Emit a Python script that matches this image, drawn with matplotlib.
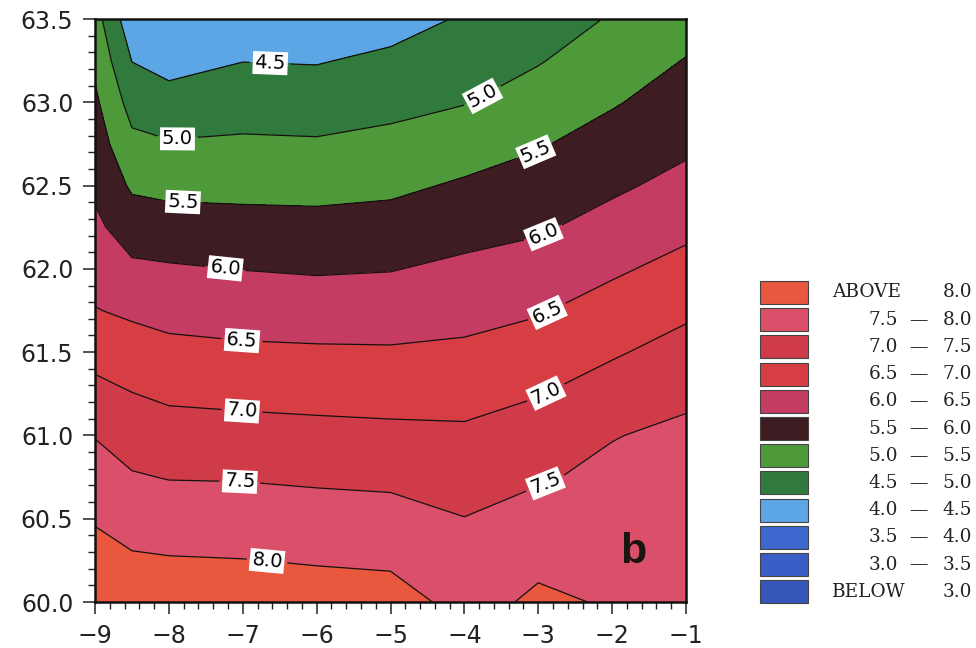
import numpy as np
import matplotlib
matplotlib.use("Agg")
import matplotlib.pyplot as plt
from matplotlib.patches import Rectangle

# ---- data ----
x_cols = [-9.0, -8.5, -8.0, -7.0, -6.0, -5.0, -4.0, -3.0, -2.0, -1.0]
y_rows = [60.0, 60.25, 60.5, 60.75, 61.0, 61.25, 61.5, 61.75,
          62.0, 62.25, 62.5, 62.75, 63.0, 63.25, 63.5]

# field values, one row per latitude (y_rows order), one column per x_cols entry
row_600 = [8.40, 8.30, 8.25, 8.25, 8.20, 8.17, 7.87, 8.06, 7.97, 7.90]
row_6025 = [8.18, 8.06, 8.03, 8.01, 7.97, 7.94, 7.69, 7.93, 7.85, 7.82]
row_605 = [7.96, 7.80, 7.76, 7.74, 7.70, 7.67, 7.51, 7.68, 7.73, 7.75]
row_6075 = [7.72, 7.54, 7.48, 7.47, 7.43, 7.40, 7.29, 7.45, 7.61, 7.68]
row_610 = [7.48, 7.28, 7.20, 7.17, 7.14, 7.11, 7.08, 7.22, 7.48, 7.60]
row_6125 = [7.15, 7.01, 6.92, 6.88, 6.85, 6.83, 6.84, 6.98, 7.21, 7.41]
row_615 = [6.83, 6.72, 6.63, 6.58, 6.56, 6.55, 6.59, 6.72, 6.95, 7.17]
row_6175 = [6.52, 6.42, 6.34, 6.29, 6.26, 6.26, 6.34, 6.46, 6.69, 6.92]
row_620 = [6.31, 6.09, 6.05, 5.99, 5.95, 5.98, 6.10, 6.20, 6.43, 6.65]
row_6225 = [6.10, 5.76, 5.71, 5.67, 5.65, 5.69, 5.83, 5.94, 6.17, 6.39]
row_625 = [5.91, 5.43, 5.37, 5.36, 5.35, 5.40, 5.56, 5.70, 5.92, 6.14]
row_6275 = [5.75, 5.12, 5.04, 5.07, 5.05, 5.13, 5.27, 5.46, 5.69, 5.91]
row_630 = [5.59, 4.81, 4.66, 4.78, 4.76, 4.86, 4.98, 5.21, 5.46, 5.71]
row_6325 = [5.40, 4.49, 4.35, 4.49, 4.47, 4.60, 4.77, 4.97, 5.25, 5.52]
row_635 = [5.20, 4.17, 4.10, 4.20, 4.15, 4.30, 4.55, 4.75, 5.04, 5.30]

levels = [3.0, 3.5, 4.0, 4.5, 5.0, 5.5, 6.0, 6.5, 7.0, 7.5, 8.0]
line_levels = [4.5, 5.0, 5.5, 6.0, 6.5, 7.0, 7.5, 8.0]
# colours from BELOW 3.0 up to ABOVE 8.0
fill_colors = ['#3556B8', '#3A5EC6', '#3D69CF', '#5DA6E6', '#2F7A3C',
               '#4E9A3A', '#3E1D22', '#C43C62', '#D63E44', '#CF3B48',
               '#DA506A', '#E8573E']
legend_labels = ['BELOW', '3.0 – 3.5', '3.5 – 4.0', '4.0 – 4.5', '4.5 – 5.0',
                 '5.0 – 5.5', '5.5 – 6.0', '6.0 – 6.5', '6.5 – 7.0',
                 '7.0 – 7.5', '7.5 – 8.0', 'ABOVE']

label_pos = [(-6.63, 63.21), (-7.88, 62.76), (-3.72, 63.01), (-7.81, 62.40),
             (-3.00, 62.66), (-7.24, 61.99), (-2.91, 62.19), (-7.01, 61.57),
             (-2.88, 61.74), (-7.01, 61.15), (-2.88, 61.24), (-7.04, 60.72),
             (-2.91, 60.72), (-6.67, 60.25)]

# ---- figure ----
W, H = 976, 648
fig = plt.figure(figsize=(W / 100, H / 100), dpi=100)
ax = fig.add_axes([95 / W, 1 - 602 / H, (686 - 95) / W, (602 - 19) / H])

Z = np.array([row_600, row_6025, row_605, row_6075, row_610, row_6125, row_615,
              row_6175, row_620, row_6225, row_625, row_6275, row_630, row_6325,
              row_635])
X, Y = np.meshgrid(x_cols, y_rows)

fill_levels = [-100.0] + levels + [100.0]
ax.contourf(X, Y, Z, levels=fill_levels, colors=fill_colors)
cs = ax.contour(X, Y, Z, levels=line_levels, colors='#151010', linewidths=0.9)
ax.clabel(cs, line_levels, manual=label_pos, inline=True,
          inline_spacing=5, fmt='%.1f', fontsize=14)
for t in cs.labelTexts:
    t.set_bbox(dict(boxstyle='square,pad=0.1', fc='white', ec='none'))
    t.set_color('black')

ax.text(-1.72, 60.30, 'b', fontsize=31, fontweight='bold', color='#1c1410',
        ha='center', va='center', family='Liberation Sans')

ax.set_xlim(-9, -1)
ax.set_ylim(60.0, 63.5)
ax.set_xticks(np.arange(-9, 0, 1))
ax.set_xticks(np.arange(-9, -0.99, 0.2), minor=True)
ax.set_yticks(np.arange(60.0, 63.51, 0.5))
ax.set_yticks(np.arange(60.0, 63.51, 0.1), minor=True)
ax.set_yticklabels(['%.1f' % v for v in np.arange(60.0, 63.51, 0.5)])
ax.tick_params(axis='both', which='major', direction='out', length=8.6,
               width=1.1, labelsize=17, colors='#222222')
ax.tick_params(axis='both', which='minor', direction='out', length=5, width=1.0,
               colors='#222222')
ax.tick_params(axis='y', which='major', pad=7)
ax.tick_params(axis='x', which='major', pad=7)
for s in ax.spines.values():
    s.set_linewidth(1.8)
    s.set_color('#111111')

# ---- legend drawn in figure pixels ----
n = len(fill_colors)
top0 = 281
pitch = 27.2
bh = 23
for i in range(n):
    k = n - 1 - i  # ABOVE at top
    ytop = top0 + pitch * i
    rect = Rectangle((760 / W, 1 - (ytop + bh) / H), 48 / W, bh / H,
                     transform=fig.transFigure, facecolor=fill_colors[k],
                     edgecolor='#444444', linewidth=0.8)
    fig.patches.append(rect)
    yc = 1 - (ytop + bh / 2) / H
    lab = legend_labels[k]
    kw = dict(fontsize=13.3, family='DejaVu Serif', va='center', color='#222222',
              transform=fig.transFigure)
    if lab in ('ABOVE', 'BELOW'):
        val = '8.0' if lab == 'ABOVE' else '3.0'
        fig.text(832 / W, yc, lab, ha='left', **kw)
        fig.text(972 / W, yc, val, ha='right', **kw)
    else:
        lo, hi = lab.split(' – ')
        fig.text(898 / W, yc, lo, ha='right', **kw)
        fig.text(918 / W, yc, '—', ha='center', **kw)
        fig.text(972 / W, yc, hi, ha='right', **kw)

fig.savefig('out.png', dpi=100)
